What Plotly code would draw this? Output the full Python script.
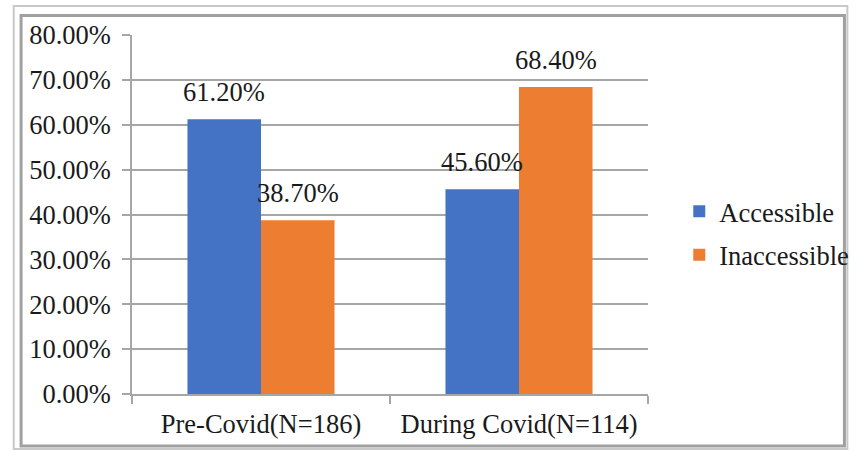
import plotly.graph_objects as go

categories = ["Pre-Covid(N=186)", "During Covid(N=114)"]
accessible = [0.612, 0.456]
inaccessible = [0.387, 0.684]
series_names = ["Accessible", "Inaccessible"]
tick_vals = [0, 0.1, 0.2, 0.3, 0.4, 0.5, 0.6, 0.7, 0.8]

W, H = 866, 451
L, T = 132, 35
R = W - 660
B = H - 394
pw, ph = W - L - R, H - T - B

def px(x):
    return (x - L) / pw

def py(y):
    return (H - B - y) / ph

FONT = "Liberation Serif, Times New Roman, serif"
FS = 26.5
TXT = "#1a1a1a"
fig = go.Figure()
annotations = []
for name, vals, col, grp, shift in [(series_names[0], accessible, "#4472C4", "a", -37),
                                    (series_names[1], inaccessible, "#ED7D31", "b", 37)]:
    fig.add_trace(go.Bar(
        x=categories, y=vals, name=name, marker_color=col, marker_line_width=0,
        legendgroup=grp,
    ))
    for c, v in zip(categories, vals):
        annotations.append(dict(x=c, y=v, text=f"{v*100:.2f}%", showarrow=False,
                                xshift=shift, yshift=10, yanchor="bottom",
                                font=dict(family=FONT, size=FS, color=TXT)))

shapes = [
    dict(type="rect", xref="paper", yref="paper", x0=px(11), x1=px(864), y0=py(6), y1=py(449),
         line=dict(color="#c8c8c8", width=2), layer="below"),
    dict(type="rect", xref="paper", yref="paper", x0=px(18.5), x1=px(861), y0=py(15.5), y1=py(446),
         line=dict(color="#a0a0a0", width=3), layer="below"),
]

fig.update_layout(
    width=W, height=H, margin=dict(l=L, r=R, t=T, b=B),
    paper_bgcolor="white", plot_bgcolor="white",
    barmode="group", bargap=0.43, bargroupgap=0,
    font=dict(family=FONT, size=FS, color=TXT),
    showlegend=True,
    annotations=annotations,
    legend=dict(x=px(692), y=py(233), xanchor="left", yanchor="middle",
                font=dict(family=FONT, size=FS, color=TXT), tracegroupgap=6,
                bgcolor="rgba(0,0,0,0)"),
    shapes=shapes,
    xaxis=dict(showline=True, linecolor="#a6a6a6", linewidth=1.5, ticks="outside",
               tickson="boundaries", ticklen=8, tickcolor="#a6a6a6", tickwidth=1.5,
               showgrid=False, ticklabelstandoff=5,
               tickfont=dict(family=FONT, size=FS, color=TXT)),
    yaxis=dict(range=[0, 0.8], tickvals=tick_vals, tickformat=".2%", showline=True,
               linecolor="#a6a6a6", linewidth=1.5, ticks="outside", ticklen=8,
               tickcolor="#a6a6a6", tickwidth=1.5, showgrid=True, gridcolor="#a6a6a6",
               gridwidth=1.5, zeroline=False, ticklabelstandoff=6,
               tickfont=dict(family=FONT, size=FS, color=TXT)),
)

fig.write_html("out.html", config={"displayModeBar": False},
               post_script="document.body.style.margin='0';document.body.style.overflow='hidden';")
